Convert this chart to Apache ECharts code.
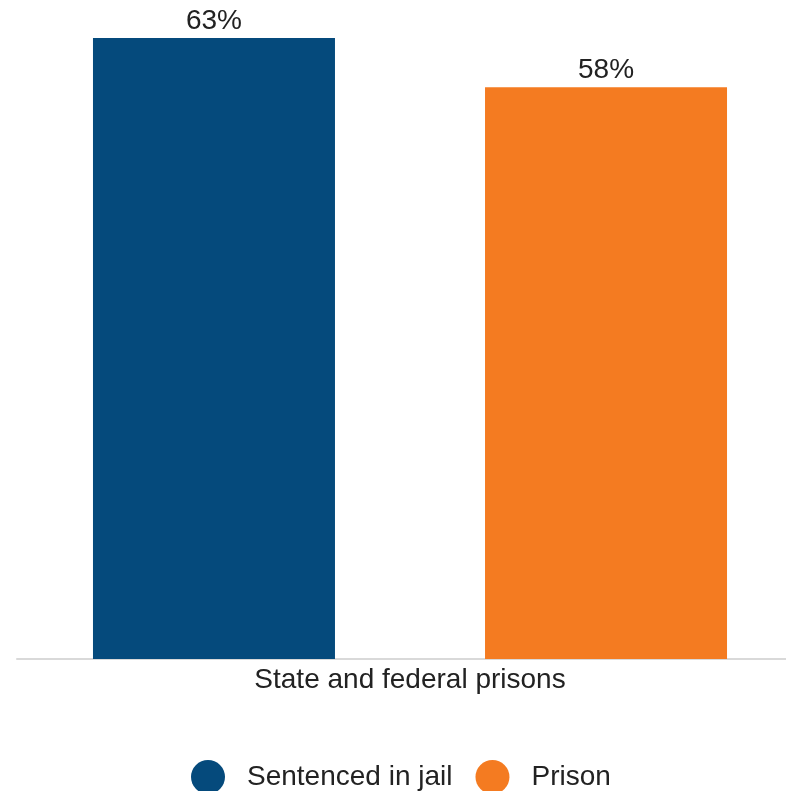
<!DOCTYPE html>
<html>
<head>
<meta charset="utf-8">
<script src="https://cdn.jsdelivr.net/npm/echarts@6/dist/echarts.min.js"></script>
<style>
  html, body { margin: 0; padding: 0; background: #fff; }
  #chart { width: 786px; height: 791px; }
</style>
</head>
<body>
<div id="chart"></div>
<script>
// Share of people, by where they are held
const categories = ['State and federal prisons'];
const seriesNames = ['Sentenced in jail', 'Prison'];
const jailValues = [63];
const prisonValues = [58];
const colors = ['#054a7c', '#f47b21'];

const chart = echarts.init(document.getElementById('chart'), null, { renderer: 'canvas' });

const font = 'Liberation Sans, Arial, sans-serif';

function barSeries(name, data, color) {
  return {
    name: name,
    type: 'bar',
    data: data,
    barWidth: 242,
    barGap: '62%',
    itemStyle: { color: color },
    label: {
      show: true,
      position: 'top',
      distance: 3,
      formatter: '{c}%',
      color: '#222',
      fontSize: 28,
      fontFamily: font
    }
  };
}

chart.setOption({
  animation: false,
  // the plot area runs past the right edge of the canvas
  grid: { left: 17, right: -17, top: 38, bottom: 132, outerBoundsMode: 'none', containLabel: false },
  legend: {
    data: seriesNames,
    left: 186,
    top: 755,
    icon: 'circle',
    itemWidth: 34,
    itemHeight: 34,
    itemGap: 23,
    textStyle: { color: '#222', fontSize: 28, fontFamily: font, padding: [0, 0, 6, 17] }
  },
  xAxis: {
    type: 'category',
    data: categories,
    axisLine: { lineStyle: { color: '#d9d9d9', width: 2 } },
    axisTick: { show: false },
    axisLabel: { color: '#222', fontSize: 28, fontFamily: font, margin: 7 }
  },
  yAxis: {
    type: 'value',
    min: 0,
    max: 63,
    show: false,
    splitLine: { show: false }
  },
  series: [
    barSeries(seriesNames[0], jailValues, colors[0]),
    barSeries(seriesNames[1], prisonValues, colors[1])
  ]
});
</script>
</body>
</html>
